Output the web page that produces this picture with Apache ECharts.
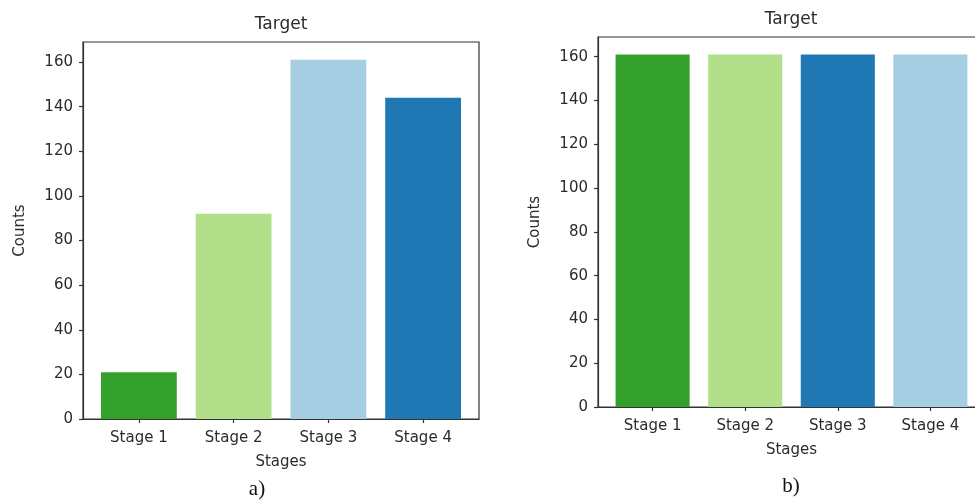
<!DOCTYPE html>
<html>
<head>
<meta charset="utf-8">
<script src="https://cdn.jsdelivr.net/npm/echarts@6/dist/echarts.min.js"></script>
<style>
  html, body { margin: 0; padding: 0; background: #fff; }
  #chart { width: 975px; height: 504px; }
</style>
</head>
<body>
<div id="chart"></div>
<script>
// Stage labels shared by both panels
const stages = ['Stage 1', 'Stage 2', 'Stage 3', 'Stage 4'];

// Panel a): counts per stage before balancing
const countsA = [21, 92, 161, 144];
const colorsA = ['#33a02c', '#b2df8a', '#a6cee3', '#1f78b4'];

// Panel b): counts per stage after balancing
const countsB = [161, 161, 161, 161];
const colorsB = ['#33a02c', '#b2df8a', '#1f78b4', '#a6cee3'];

// Y tick values
const yTicks = [0, 20, 40, 60, 80, 100, 120, 140, 160];

const FONT = 'DejaVu Sans';
const TXT = '#2b2b2b';
const LINE = '#333';

function barData(values, colors) {
  return values.map((v, i) => ({ value: [i, v], itemStyle: { color: colors[i] } }));
}

function xAxisFor(gridIndex) {
  return {
    type: 'value',
    gridIndex,
    min: -0.59,
    max: 3.59,
    name: 'Stages',
    nameLocation: 'middle',
    nameGap: 36,
    nameTextStyle: { fontFamily: FONT, fontSize: 15, color: TXT },
    splitLine: { show: false },
    axisLine: { show: true, onZero: false, lineStyle: { color: LINE, width: 1.2 } },
    axisTick: { show: true, length: 4, customValues: [0, 1, 2, 3], lineStyle: { color: LINE, width: 1.2 } },
    axisLabel: {
      customValues: [0, 1, 2, 3],
      margin: 12,
      fontFamily: FONT, fontSize: 15, color: TXT,
      formatter: v => stages[v]
    }
  };
}

function yAxisFor(gridIndex) {
  return {
    type: 'value',
    gridIndex,
    min: 0,
    max: 169,
    name: 'Counts',
    nameLocation: 'middle',
    nameGap: 55,
    nameTextStyle: { fontFamily: FONT, fontSize: 15, color: TXT },
    splitLine: { show: false },
    axisLine: { show: true, onZero: false, lineStyle: { color: LINE, width: 1.2 } },
    axisTick: { show: true, length: 4, customValues: yTicks, lineStyle: { color: LINE, width: 1.2 } },
    axisLabel: {
      customValues: yTicks,
      margin: 10,
      fontFamily: FONT, fontSize: 15, color: TXT
    }
  };
}

function titleAt(text, x, y, serif) {
  return {
    text,
    left: x,
    top: y,
    padding: 0,
    textAlign: 'center',
    textVerticalAlign: 'middle',
    textStyle: serif
      ? { fontFamily: 'Liberation Serif', fontSize: 21, fontWeight: 'normal', color: '#111' }
      : { fontFamily: FONT, fontSize: 17, fontWeight: 'normal', color: TXT }
  };
}

const chart = echarts.init(document.getElementById('chart'), null, { renderer: 'canvas' });

chart.setOption({
  backgroundColor: '#fff',
  animation: false,
  title: [
    titleAt('Target', 281, 25, false),
    titleAt('Target', 791, 20, false),
    titleAt('a)', 257, 489, true),
    titleAt('b)', 791, 486, true)
  ],
  grid: [
    { left: 83, top: 42, width: 396, height: 377, show: true, borderColor: LINE, borderWidth: 1.2, outerBoundsMode: 'none' },
    { left: 598, top: 37, width: 387, height: 370, show: true, borderColor: LINE, borderWidth: 1.2, outerBoundsMode: 'none' }
  ],
  xAxis: [xAxisFor(0), xAxisFor(1)],
  yAxis: [yAxisFor(0), yAxisFor(1)],
  series: [
    { type: 'bar', xAxisIndex: 0, yAxisIndex: 0, barWidth: '80%', data: barData(countsA, colorsA) },
    { type: 'bar', xAxisIndex: 1, yAxisIndex: 1, barWidth: '80%', data: barData(countsB, colorsB) }
  ]
});
</script>
</body>
</html>
